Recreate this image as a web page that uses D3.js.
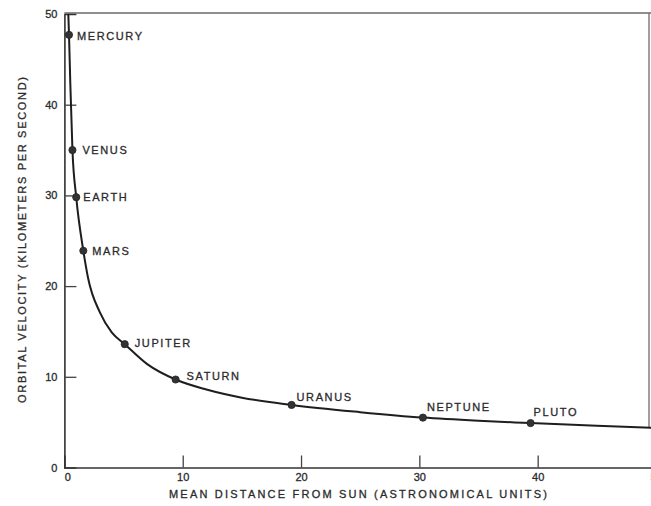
<!DOCTYPE html>
<html>
<head>
<meta charset="utf-8">
<script src="https://cdn.jsdelivr.net/npm/d3@7/dist/d3.min.js"></script>
<style>
  html, body { margin: 0; padding: 0; background: #ffffff; }
  svg { display: block; }
  text { font-family: "Liberation Sans", Arial, Helvetica, sans-serif; fill: #2b2b2b; stroke: #2b2b2b; stroke-width: 0.3px; }
</style>
</head>
<body>
<svg id="chart" width="651" height="506"></svg>
<script>
// ---- data ----
const planets    = ["MERCURY", "VENUS", "EARTH", "MARS", "JUPITER", "SATURN", "URANUS", "NEPTUNE", "PLUTO"];
const distanceAU = [0.39, 0.68, 1.0, 1.6, 5.1, 9.4, 19.2, 30.3, 39.4];
const velocityKm = [47.7, 35.0, 29.8, 23.9, 13.6, 9.7, 6.9, 5.5, 4.9];

// curve
const curveX = [0.33, 0.39, 0.5, 0.68, 1.0, 1.6, 2.0, 3.0, 4.0, 5.1, 7.0, 9.4, 12, 15, 19.2, 25, 30.3, 35, 39.4, 45, 50];
const curveY = [50, 47.7, 42.3, 35.0, 29.8, 23.9, 20.9, 17.1, 14.9, 13.6, 11.4, 9.7, 8.6, 7.7, 6.9, 6.1, 5.5, 5.15, 4.9, 4.6, 4.35];

const xTicks = [0, 10, 20, 30, 40, 50];
const yTicks = [0, 10, 20, 30, 40, 50];

const xTitle = "MEAN DISTANCE FROM SUN (ASTRONOMICAL UNITS)";
const yTitle = "ORBITAL VELOCITY (KILOMETERS PER SECOND)";

// label offsets (pixels) relative to each planet point
const labelDX = [8, 10, 7, 9, 10, 11, 5, 4, 3];
const labelDY = [1, 0, 0, 0, -1, -4, -8, -11, -11];

// ---- layout ----
const W = 651, H = 506;
const svg = d3.select("#chart");

const x = d3.scaleLinear().domain([0, 50]).range([64.4, 656]);
const y = d3.scaleLinear().domain([0, 50]).range([467.5, 14]);

// frame (top & right)
svg.append("line")
  .attr("x1", x(0)).attr("x2", W).attr("y1", y(50) - 1).attr("y2", y(50) - 1)
  .attr("stroke", "#6a6a6a").attr("stroke-width", 1.4);
svg.append("line")
  .attr("x1", 649).attr("x2", 649).attr("y1", y(50) - 1).attr("y2", y(4.4))
  .attr("stroke", "#777").attr("stroke-width", 1.4);

// axes
const xAxis = d3.axisBottom(x).tickValues(xTicks).tickSize(-12).tickPadding(6).tickFormat(d3.format("d"));
const yAxis = d3.axisLeft(y).tickValues(yTicks).tickSize(-12).tickPadding(7).tickFormat(d3.format("d"));

const gx = svg.append("g").attr("transform", `translate(0,${y(0)})`).call(xAxis);
const gy = svg.append("g").attr("transform", `translate(${x(0)},0)`).call(yAxis);

[gx, gy].forEach(g => {
  g.select(".domain").attr("stroke", "#333").attr("stroke-width", 1.6);
  g.selectAll(".tick line").attr("stroke", "#444").attr("stroke-width", 1.3);
  g.selectAll(".tick text")
    .style("font-family", '"Liberation Sans", Arial, sans-serif')
    .style("font-size", "11px")
    .attr("fill", "#2b2b2b");
});
gx.selectAll(".tick").filter(d => d === 0).select("line").remove();
gx.selectAll(".tick").filter(d => d === 0).select("text").attr("dx", 3);
gy.selectAll(".tick").filter(d => d === 0 || d === 50).select("line").remove();

// axis titles
svg.append("text")
  .attr("x", 358).attr("y", 498)
  .attr("text-anchor", "middle")
  .attr("textLength", 378).attr("lengthAdjust", "spacing")
  .style("font-size", "11px")
  .text(xTitle);

svg.append("text")
  .attr("transform", `translate(26,240) rotate(-90)`)
  .attr("text-anchor", "middle")
  .attr("textLength", 326).attr("lengthAdjust", "spacing")
  .style("font-size", "11px")
  .text(yTitle);

// curve
const curvePts = curveX.map((d, i) => [d, curveY[i]]);
svg.append("path")
  .datum(curvePts)
  .attr("fill", "none")
  .attr("stroke", "#1e1e1e")
  .attr("stroke-width", 2)
  .attr("d", d3.line().x(d => x(d[0])).y(d => y(d[1])).curve(d3.curveMonotoneX));

// points
const pts = planets.map((p, i) => ({ name: p, a: distanceAU[i], v: velocityKm[i], dx: labelDX[i], dy: labelDY[i] }));
svg.selectAll("circle.pt").data(pts).enter().append("circle")
  .attr("class", "pt")
  .attr("cx", d => x(d.a)).attr("cy", d => y(d.v))
  .attr("r", 3.6)
  .attr("fill", "#333").attr("stroke", "#222").attr("stroke-width", 0.8);

// labels
svg.selectAll("text.lbl").data(pts).enter().append("text")
  .attr("class", "lbl")
  .attr("x", d => x(d.a) + d.dx)
  .attr("y", d => y(d.v) + d.dy + 4)
  .style("font-size", "11px")
  .style("letter-spacing", "1.6px")
  .text(d => d.name);
</script>
</body>
</html>
